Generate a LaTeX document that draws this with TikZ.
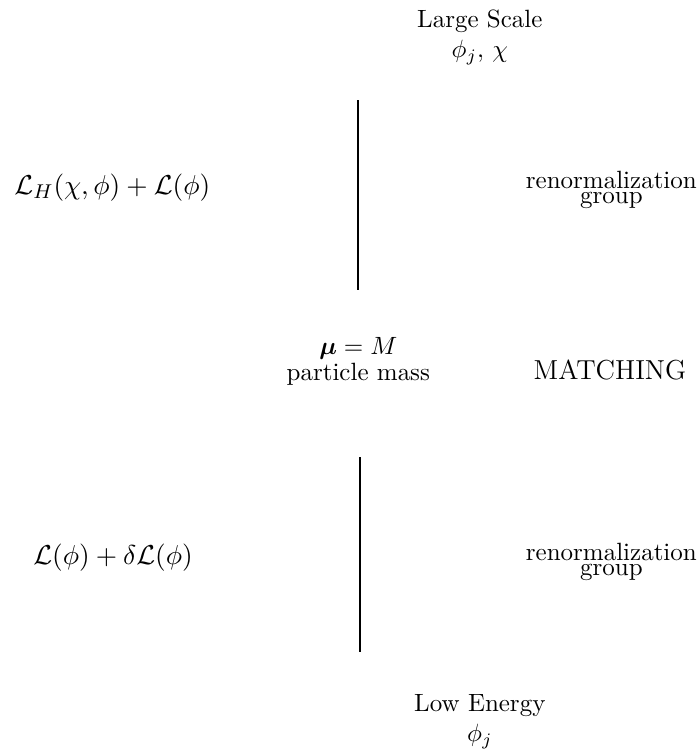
\documentclass[tikz,border=0pt]{standalone}
\usepackage{amsmath,amssymb}
\usetikzlibrary{positioning}

\begin{document}
\begin{tikzpicture}[
  lbl/.style={align=center, font=\normalsize, inner sep=1pt},
  eqn/.style={inner sep=1pt, font=\fontsize{11}{13}\selectfont},
  rg/.style={align=center, font=\normalsize, inner sep=1pt},
  scaleline/.style={thick}
]
\useasboundingbox (0,0) rectangle (9.80,-10.55);
\node[lbl] (large) at (6.75,-0.53) {Large Scale\\ $\phi_j,\,\chi$};
\coordinate (hightop) at (5.04,-1.41);
\coordinate (highbot) at (5.04,-4.08);
\node[eqn] (lagh) at (1.58,-2.64) {$\mathcal{L}_H(\chi,\phi)+\mathcal{L}(\phi)$};
\node[rg] (rghigh) at (8.60,-2.67) {renormalization\\[-6pt] group};
\node[lbl] (scale) at (5.04,-5.08) {$\boldsymbol{\mu}=M$\\[-1.5pt] particle mass};
\node[lbl, font=\fontsize{11}{13}\selectfont] (match) at (8.58,-5.20) {MATCHING};
\coordinate (lowtop) at (5.06,-6.43);
\coordinate (lowbot) at (5.06,-9.17);
\node[eqn] (lagl) at (1.59,-7.85) {$\mathcal{L}(\phi)+\delta\mathcal{L}(\phi)$};
\node[rg] (rglow) at (8.60,-7.90) {renormalization\\[-6pt] group};
\node[lbl] (low) at (6.75,-10.15) {Low Energy\\ $\phi_j$};
\draw[scaleline] (hightop) -- (highbot);
\draw[scaleline] (lowtop) -- (lowbot);
\end{tikzpicture}
\end{document}
